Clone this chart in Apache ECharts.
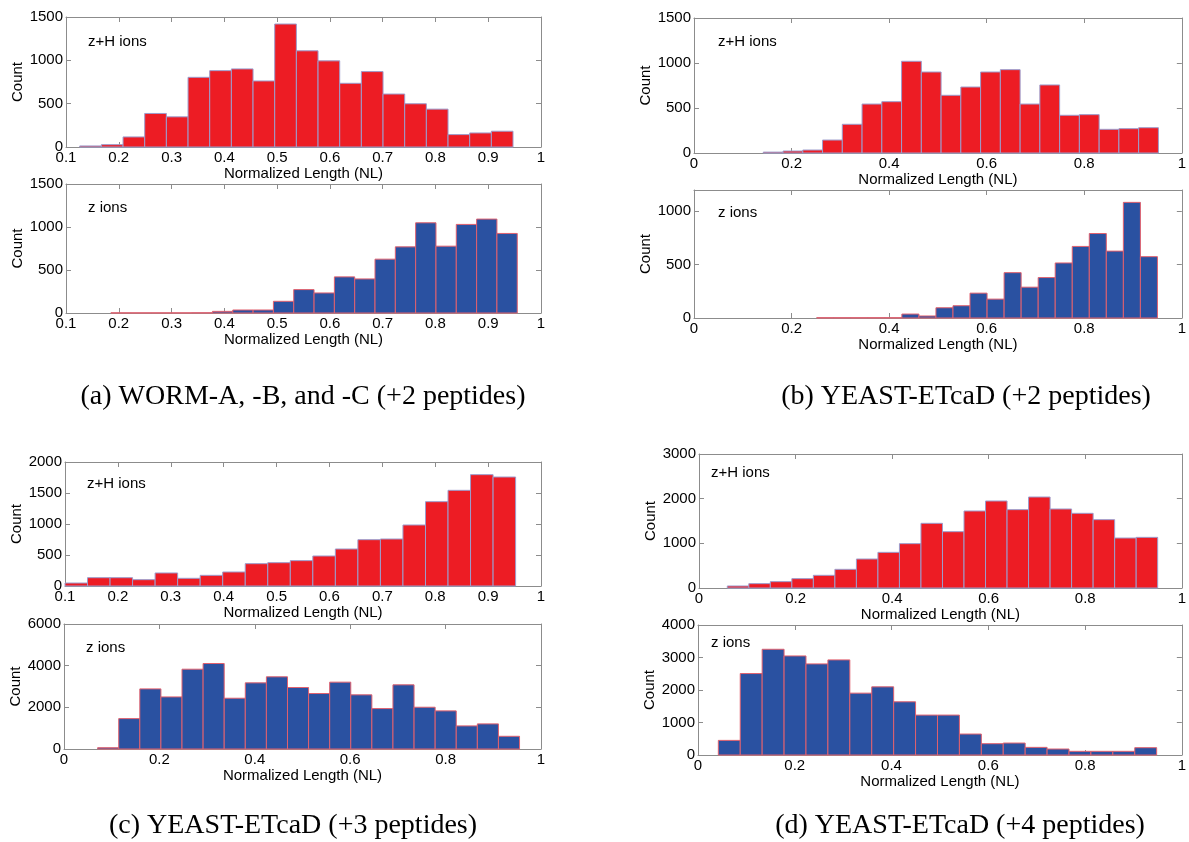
<!DOCTYPE html>
<html>
<head>
<meta charset="utf-8">
<script src="https://cdn.jsdelivr.net/npm/echarts@6.0.0/dist/echarts.min.js"></script>
<style>
  html, body { margin: 0; padding: 0; background: #fff; }
  #main { width: 1189px; height: 842px; }
</style>
</head>
<body>
<div id="main"></div>
<script>
// histogram counts, 20 bins per panel
var zhA = [12, 27, 116, 387, 348, 804, 881, 901, 762, 1419, 1110, 994, 735, 870, 611, 499, 437, 143, 162, 182];
var zA  = [2, 2, 2, 2, 3, 19, 35, 35, 136, 272, 233, 420, 396, 626, 769, 1049, 777, 1030, 1092, 925];
var zhB = [10, 22, 33, 144, 319, 544, 570, 1019, 900, 641, 733, 900, 926, 544, 756, 419, 426, 263, 270, 281];
var zB  = [3, 3, 3, 3, 3, 37, 19, 96, 115, 233, 177, 425, 289, 379, 516, 671, 792, 627, 1084, 575];
var zhC = [48, 134, 134, 102, 210, 124, 172, 226, 360, 376, 409, 484, 597, 747, 758, 984, 1360, 1543, 1796, 1758];
var zC  = [62, 1459, 2886, 2500, 3831, 4104, 2437, 3175, 3465, 2952, 2663, 3209, 2600, 1941, 3080, 2005, 1830, 1108, 1205, 610];
var zhD = [45, 97, 142, 209, 284, 418, 649, 798, 993, 1448, 1261, 1724, 1948, 1754, 2037, 1769, 1672, 1530, 1119, 1134];
var zD  = [450, 2506, 3253, 3048, 2803, 2926, 1903, 2097, 1637, 1228, 1228, 645, 348, 368, 235, 184, 113, 113, 113, 225];

// bin range (first edge, last edge) of each histogram
var rangeZhA = [0.126, 0.947], rangeZA = [0.185, 0.955];
var rangeZhB = [0.142, 0.952], rangeZB = [0.2515, 0.95];
var rangeZhC = [0.1, 0.952],   rangeZC = [0.0705, 0.955];
var rangeZhD = [0.0586, 0.95], rangeZD = [0.042, 0.948];

// axis limits [min, max, interval]
var xNL1 = [0.1, 1, 0.1];
var xNL0 = [0, 1, 0.2];

var captions = ["(a) WORM-A, -B, and -C (+2 peptides)", "(b) YEAST-ETcaD (+2 peptides)",
                "(c) YEAST-ETcaD (+3 peptides)", "(d) YEAST-ETcaD (+4 peptides)"];

var RED = "#ed1c24", RED_EDGE = "#9c9ccc";
var BLUE = "#2a51a1", BLUE_EDGE = "#e0606e";
var GRAY = "#8c8c8c";
var SANS = "Liberation Sans, Arial, sans-serif";

var panels = [
  { pos: [66, 17, 475, 130],   x: xNL1, y: [0, 1500, 500],  counts: zhA, range: rangeZhA, red: true,  label: "z+H ions", lp: [88, 42] },
  { pos: [66, 184, 475, 129],  x: xNL1, y: [0, 1500, 500],  counts: zA,  range: rangeZA,  red: false, label: "z ions",   lp: [88, 208] },
  { pos: [694, 18, 494, 135],  x: xNL0, y: [0, 1500, 500],  counts: zhB, range: rangeZhB, red: true,  label: "z+H ions", lp: [718, 42] },
  { pos: [694, 190, 494, 128], x: xNL0, y: [0, 1200, 500],  counts: zB,  range: rangeZB,  red: false, label: "z ions",   lp: [718, 213] },
  { pos: [65, 462, 476, 124],  x: xNL1, y: [0, 2000, 500],  counts: zhC, range: rangeZhC, red: true,  label: "z+H ions", lp: [87, 484] },
  { pos: [64, 624, 477, 125],  x: xNL0, y: [0, 6000, 2000], counts: zC,  range: rangeZC,  red: false, label: "z ions",   lp: [86, 648] },
  { pos: [699, 454, 489, 134], x: xNL0, y: [0, 3000, 1000], counts: zhD, range: rangeZhD, red: true,  label: "z+H ions", lp: [711, 473] },
  { pos: [698, 625, 490, 130], x: xNL0, y: [0, 4000, 1000], counts: zD,  range: rangeZD,  red: false, label: "z ions",   lp: [711, 643] }
];

function binData(range, counts) {
  var w = (range[1] - range[0]) / counts.length;
  return counts.map(function (c, k) {
    return [range[0] + k * w, range[0] + (k + 1) * w, c];
  });
}

var chart = echarts.init(document.getElementById("main"));
var grid = [], xAxis = [], yAxis = [], series = [], graphic = [];

panels.forEach(function (p, i) {
  grid.push({ left: p.pos[0], top: p.pos[1], width: p.pos[2], height: p.pos[3] });
  var line = { show: true, onZero: false, lineStyle: { color: GRAY, width: 1 } };
  var tick = { show: true, inside: true, length: 5, lineStyle: { color: GRAY } };
  xAxis.push({
    gridIndex: i, type: "value", position: "bottom",
    min: p.x[0], max: p.x[1], interval: p.x[2],
    axisLine: line, axisTick: tick, splitLine: { show: false },
    axisLabel: { color: "#000", fontSize: 15, fontFamily: SANS, margin: 3 },
    name: "Normalized Length (NL)", nameLocation: "middle", nameGap: 19,
    nameTextStyle: { color: "#000", fontSize: 15, fontFamily: SANS }
  });
  xAxis.push({
    gridIndex: i, type: "value", position: "top",
    min: p.x[0], max: p.x[1], interval: p.x[2],
    axisLine: line, axisTick: tick, splitLine: { show: false }, axisLabel: { show: false }
  });
  yAxis.push({
    gridIndex: i, type: "value", position: "left",
    min: p.y[0], max: p.y[1], interval: p.y[2],
    axisLine: line, axisTick: tick, splitLine: { show: false },
    axisLabel: { color: "#000", fontSize: 15, fontFamily: SANS, margin: 3,
      showMaxLabel: p.y[1] % p.y[2] === 0,
      formatter: function (v) { return String(v); } },
    name: "Count", nameLocation: "middle", nameGap: 32,
    nameTextStyle: { color: "#000", fontSize: 15, fontFamily: SANS }
  });
  yAxis.push({
    gridIndex: i, type: "value", position: "right",
    min: p.y[0], max: p.y[1], interval: p.y[2],
    axisLine: line, axisTick: tick, splitLine: { show: false }, axisLabel: { show: false }
  });
  var fill = p.red ? RED : BLUE, edge = p.red ? RED_EDGE : BLUE_EDGE;
  series.push({
    type: "custom", xAxisIndex: 2 * i, yAxisIndex: 2 * i, silent: true,
    encode: { x: [0, 1], y: 2 },
    data: binData(p.range, p.counts),
    renderItem: function (params, api) {
      var a = api.coord([api.value(0), api.value(2)]);
      var b = api.coord([api.value(1), 0]);
      return {
        type: "rect",
        shape: { x: a[0], y: a[1], width: b[0] - a[0], height: b[1] - a[1] },
        style: { fill: fill, stroke: edge, lineWidth: 1 }
      };
    }
  });
  graphic.push({
    type: "text", x: p.lp[0], y: p.lp[1],
    style: { text: p.label, fill: "#000", font: "15px " + SANS, textAlign: "left", textVerticalAlign: "middle" }
  });
});

var capPos = [[303, 397], [966, 397], [293, 826], [960, 826]];
captions.forEach(function (c, i) {
  graphic.push({
    type: "text", x: capPos[i][0], y: capPos[i][1],
    style: { text: c, fill: "#000", font: "28px Liberation Serif, Times New Roman, serif",
      textAlign: "center", textVerticalAlign: "middle" }
  });
});

chart.setOption({
  animation: false,
  backgroundColor: "#fff",
  grid: grid, xAxis: xAxis, yAxis: yAxis, series: series, graphic: graphic
});
</script>
</body>
</html>
